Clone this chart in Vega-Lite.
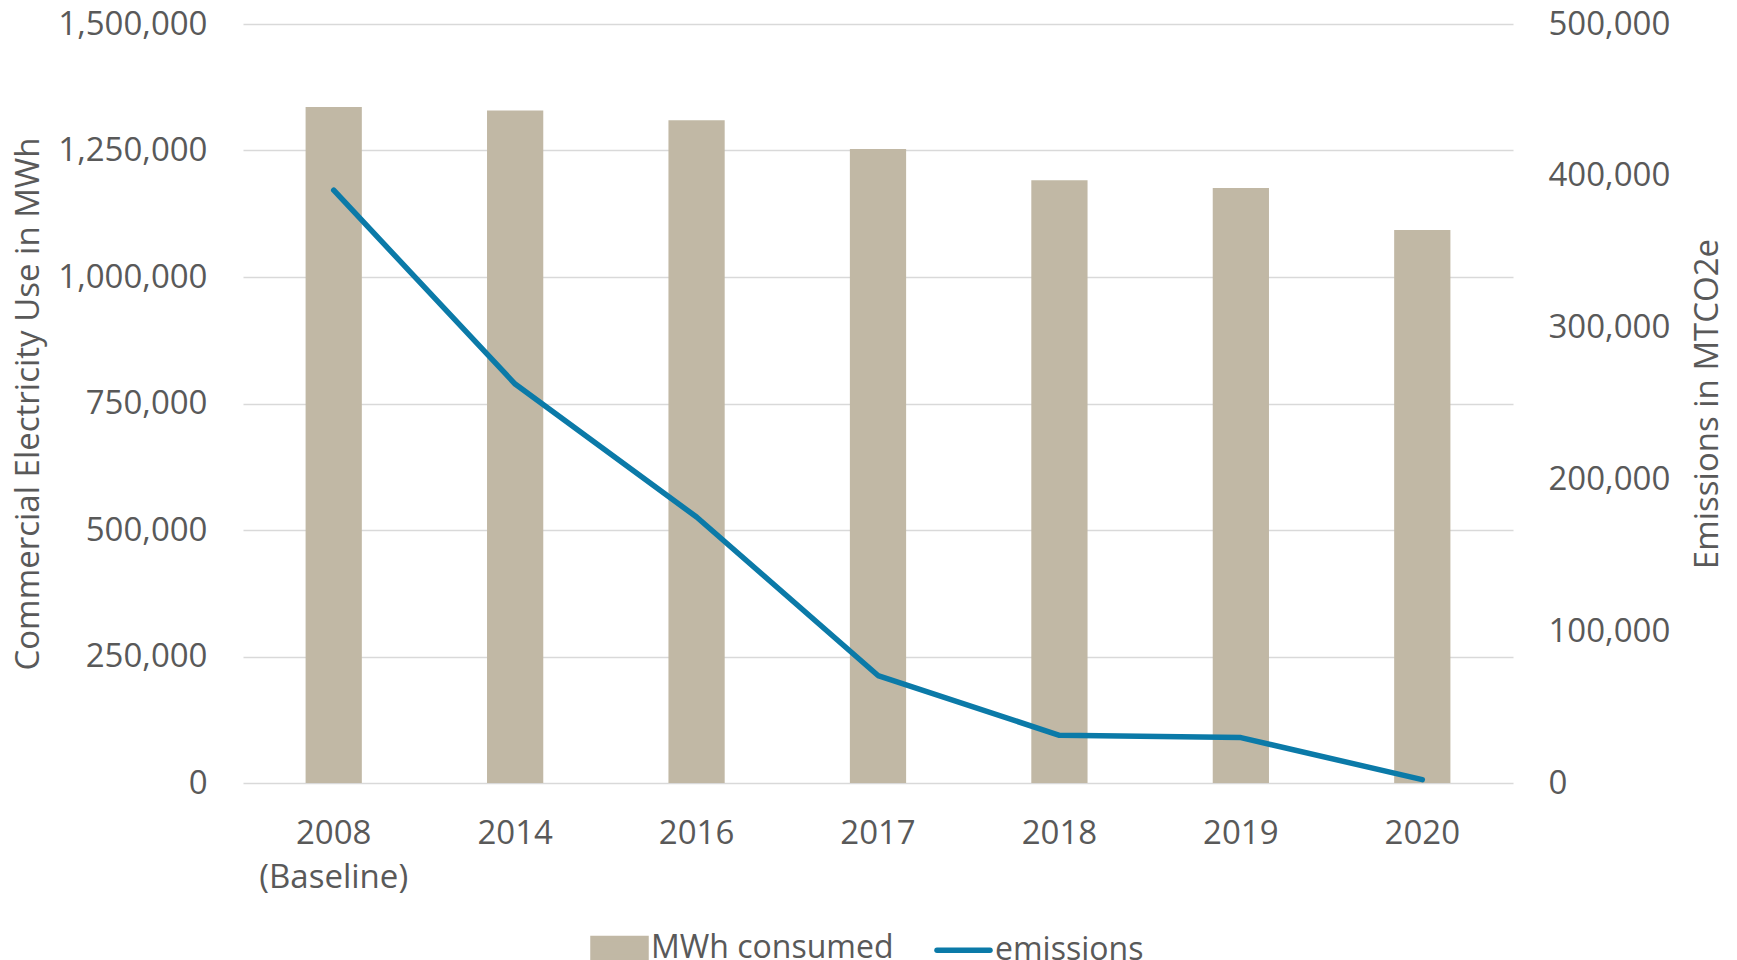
{
  "$schema": "https://vega.github.io/schema/vega-lite/v6.json",
  "width": 1270,
  "height": 759,
  "autosize": {"type": "none"},
  "padding": {"left": 243, "top": 24, "right": 224, "bottom": 177},
  "background": "white",
  "config": {
    "view": {"stroke": null},
    "font": "Open Sans",
    "axis": {"labelColor": "#595959", "titleColor": "#595959", "labelFont": "Open Sans", "titleFont": "Open Sans", "titleFontWeight": "normal", "labelFontSize": 33, "titleFontSize": 33, "ticks": false, "domain": false, "gridColor": "#D9D9D9", "gridWidth": 1.5},
    "legend": {"labelColor": "#595959", "labelFont": "Open Sans", "labelFontSize": 32, "labelLimit": 500}
  },
  "data": {
    "values": [
      {"year": "2008 (Baseline)", "mwh": 1336000, "emissions": 390500},
      {"year": "2014", "mwh": 1329000, "emissions": 262800},
      {"year": "2016", "mwh": 1310000, "emissions": 175200},
      {"year": "2017", "mwh": 1253000, "emissions": 70800},
      {"year": "2018", "mwh": 1191000, "emissions": 31400},
      {"year": "2019", "mwh": 1176000, "emissions": 29900},
      {"year": "2020", "mwh": 1093000, "emissions": 2200}
    ]
  },
  "encoding": {
    "x": {
      "field": "year", "type": "nominal", "sort": null,
      "scale": {"paddingInner": 0.69, "paddingOuter": 0.345},
      "axis": {"title": null, "labelAngle": 0, "labelPadding": 34, "labelLineHeight": 44, "labelExpr": "split(datum.label, ' ')", "grid": false}
    }
  },
  "layer": [
    {
      "mark": {"type": "bar"},
      "encoding": {
        "y": {
          "field": "mwh", "type": "quantitative",
          "scale": {"domain": [0, 1500000]},
          "axis": {"title": "Commercial Electricity Use in MWh", "values": [0, 250000, 500000, 750000, 1000000, 1250000, 1500000], "format": ",d", "labelPadding": 36, "titlePadding": 12, "grid": true}
        },
        "color": {
          "datum": "MWh consumed", "type": "nominal",
          "scale": {"domain": ["MWh consumed", "emissions"], "range": ["#C1B8A5", "#0B7AA8"]},
          "legend": {
            "title": null, "orient": "none", "direction": "horizontal",
            "legendX": 347, "legendY": 894, "padding": 0,
            "symbolSize": 2809, "labelOffset": 2, "columnPadding": 32,
            "encode": {
              "symbols": {
                "update": {
                  "shape": {"signal": "datum.value === 'emissions' ? 'M-1,0H1' : 'M-1,-0.36H1V0.36H-1Z'"},
                  "fill": {"signal": "datum.value === 'emissions' ? 'transparent' : '#C1B8A5'"},
                  "stroke": {"signal": "datum.value === 'emissions' ? '#0B7AA8' : 'transparent'"},
                  "strokeWidth": {"value": 5.5},
                  "strokeCap": {"value": "round"},
                  "opacity": {"value": 1}
                }
              }
            }
          }
        }
      }
    },
    {
      "mark": {"type": "line", "strokeWidth": 5.5, "strokeCap": "round", "strokeJoin": "round"},
      "encoding": {
        "y": {
          "field": "emissions", "type": "quantitative",
          "scale": {"domain": [0, 500000]},
          "axis": {"title": "Emissions in MTCO2e", "orient": "right", "titleAngle": 270, "values": [0, 100000, 200000, 300000, 400000, 500000], "format": ",d", "labelPadding": 35, "titlePadding": 55, "grid": false}
        },
        "color": {"datum": "emissions", "type": "nominal"}
      }
    }
  ],
  "resolve": {"scale": {"y": "independent"}}
}
